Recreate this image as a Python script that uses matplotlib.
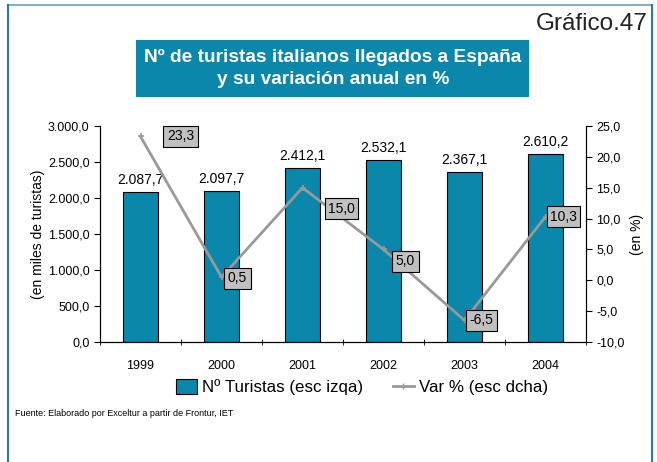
import matplotlib
matplotlib.use("Agg")
import matplotlib.pyplot as plt
from matplotlib.lines import Line2D
from matplotlib.patches import Patch, Rectangle
import numpy as np

plt.rcParams['font.family'] = ['Liberation Sans', 'DejaVu Sans']

years = ["1999", "2000", "2001", "2002", "2003", "2004"]
turistas = [2087.7, 2097.7, 2412.1, 2532.1, 2367.1, 2610.2]
variacion = [23.3, 0.5, 15.0, 5.0, -6.5, 10.3]

left_ticks = [0, 500, 1000, 1500, 2000, 2500, 3000]
right_ticks = [-10, -5, 0, 5, 10, 15, 20, 25]

# label box offsets for the % series (pixels, x right / y up)
var_offsets = [(40, 0), (16, -1), (39, -21), (22, -12), (17, 0), (18, 0)]

BAR = "#0a87aa"
LINE = "#999999"


def es_num(v, dec=1):
    s = f"{v:,.{dec}f}"
    return s.replace(",", "X").replace(".", ",").replace("X", ".")


W, H = 657, 462
fig = plt.figure(figsize=(W / 100, H / 100), dpi=100)

# page frame
fig.add_artist(Line2D([8 / W, 652 / W], [1 - 4.5 / H, 1 - 4.5 / H], color="#7fb0d2", lw=1.5))
fig.add_artist(Line2D([8 / W, 8 / W], [0, 1 - 4.5 / H], color="#2a78b0", lw=1.5))
fig.add_artist(Line2D([652 / W, 652 / W], [0, 1 - 4.5 / H], color="#2a78b0", lw=1.5))

# heading
fig.text(648 / W, 1 - 24 / H, "Gráfico.47", ha="right", va="center", fontsize=17.5, color="#222222")
fig.add_artist(Rectangle((136 / W, 1 - 97 / H), (529 - 136) / W, (97 - 40) / H,
                         transform=fig.transFigure, facecolor=BAR, edgecolor="none"))
fig.text(333 / W, 1 - 57 / H, "Nº de turistas italianos llegados a España", ha="center", va="center",
         fontsize=13.8, fontweight="bold", color="white")
fig.text(333 / W, 1 - 80 / H, "y su variación anual en %", ha="center", va="center",
         fontsize=13.8, fontweight="bold", color="white")

ax = fig.add_axes([100 / W, 1 - 342 / H, (586 - 100) / W, (342 - 126) / H])
x = np.arange(len(years))
ax.bar(x, turistas, width=0.42, color=BAR, edgecolor="black", linewidth=0.8, zorder=2)
for xi, v in zip(x, turistas):
    ax.annotate(es_num(v), (xi, v), xytext=(0, 5), textcoords="offset pixels",
                ha="center", va="bottom", fontsize=10)

ax.set_xlim(-0.5, len(years) - 0.5)
ax.set_ylim(0, 3000)
ax.set_yticks(left_ticks)
ax.set_yticklabels([es_num(v) for v in left_ticks], fontsize=9)
ax.set_xticks(x)
ax.set_xticklabels(years, fontsize=9)
ax.tick_params(axis="x", length=0, pad=13)
ax.set_xticks(np.arange(-0.5, len(years)), minor=True)
ax.tick_params(axis="x", which="minor", length=4, direction="inout")
ax.tick_params(axis="y", length=4, direction="out")
ax.spines["top"].set_visible(False)
ax.set_ylabel("(en miles de turistas)", fontsize=10, labelpad=2)

ax2 = ax.twinx()
ax2.set_ylim(-10, 25)
ax2.set_yticks(right_ticks)
ax2.set_yticklabels([es_num(v) for v in right_ticks], fontsize=9)
ax2.tick_params(axis="y", length=4, direction="out")
ax2.spines["top"].set_visible(False)
ax2.plot(x, variacion, color=LINE, lw=2, marker="+", ms=4, mew=1.2, zorder=3)
for xi, v, (dx, dy) in zip(x, variacion, var_offsets):
    ax2.annotate(es_num(v), (xi, v), xytext=(dx, dy), textcoords="offset pixels",
                 ha="center", va="center", fontsize=10,
                 bbox=dict(boxstyle="square,pad=0.25", facecolor="#c0c0c0", edgecolor="black", linewidth=0.8))
ax2.set_ylabel("(en %)", fontsize=10, labelpad=4)

handles = [Patch(facecolor=BAR, edgecolor="black", linewidth=0.8),
           Line2D([], [], color=LINE, lw=2, marker="+", ms=4)]
fig.legend(handles, ["Nº Turistas (esc izqa)", "Var % (esc dcha)"], loc="center",
           bbox_to_anchor=(362 / W, 1 - 387 / H), ncol=2, frameon=False, fontsize=12.2,
           handlelength=1.2, handleheight=1.0, handletextpad=0.3, columnspacing=1.8)

fig.text(15 / W, 1 - 413 / H, "Fuente: Elaborado por Exceltur a partir de Frontur, IET", fontsize=6.5,
         ha="left", va="center")

fig.savefig("out.png", dpi=100)
